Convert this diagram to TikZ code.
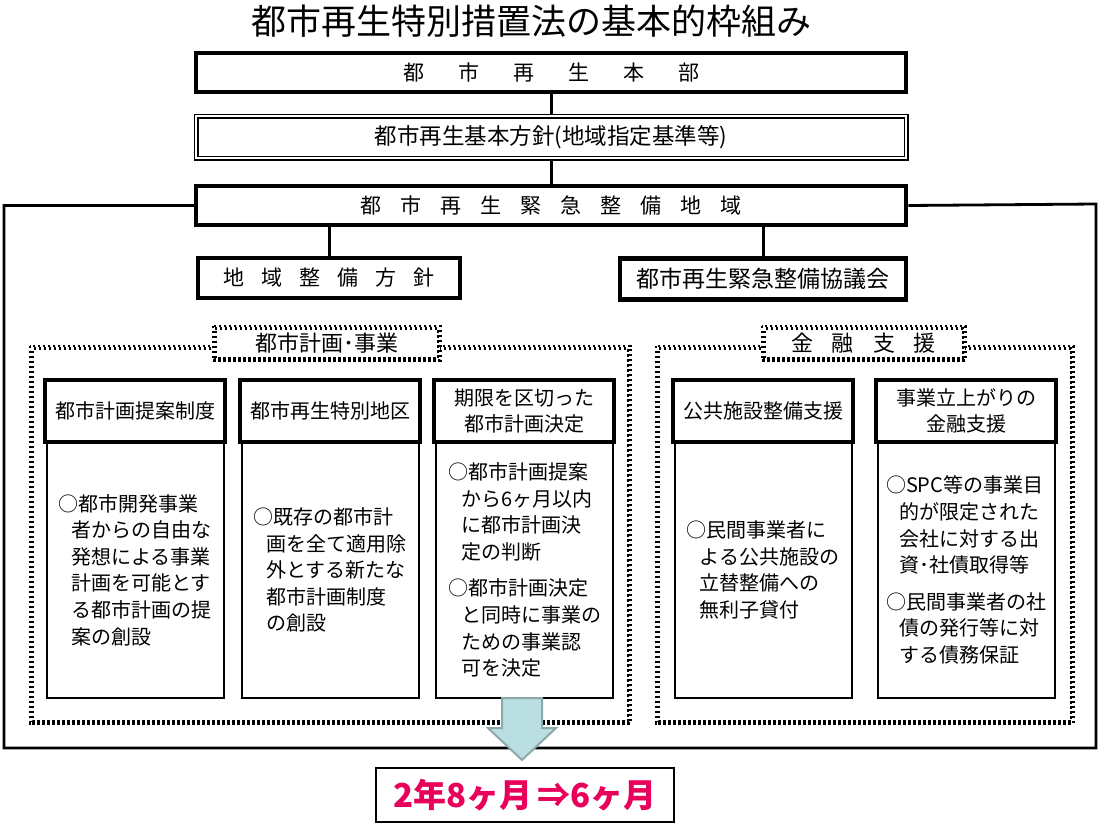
\documentclass[tikz,border=0pt]{standalone}
\usepackage{fontspec}
\setmainfont{Noto Sans CJK JP}
\usepackage{xcolor}
\usepackage{tikz}
\usetikzlibrary{positioning}
\definecolor{hotpink}{RGB}{232,0,90}
\definecolor{arrowfill}{RGB}{185,223,226}
\definecolor{arrowedge}{RGB}{140,168,170}
\makeatletter
\newcommand{\spread}[2]{\let\sp@gap\relax\@tfor\sp@ch:=#2\do{\sp@gap\sp@ch\def\sp@gap{\hspace{#1}}}}
\makeatother
\newcommand{\ind}{\hspace*{0.65em}}
\newcommand{\checkframe}[1]{%
  \draw[checker] (#1.north west) rectangle (#1.south east);
  \draw[checker,dash phase=2.5pt] ([shift={(2.4,2.4)}]#1.north west) rectangle ([shift={(-2.4,-2.4)}]#1.south east);}
\begin{document}
\begin{tikzpicture}[x=1pt,y=-1pt,
  heavybox/.style={draw,line width=4.5pt,fill=white,minimum width=710pt,minimum height=39pt,font=\fontsize{21pt}{26pt}\selectfont},
  dblbox/.style={draw,line width=1.2pt,double,double distance=2.6pt,fill=white,minimum width=710pt,minimum height=42pt,font=\fontsize{22.5pt}{26pt}\selectfont},
  headbox/.style={draw,line width=4.5pt,fill=white,minimum width=180pt,minimum height=62pt,align=center,font=\fontsize{20pt}{26.5pt}\selectfont},
  bodybox/.style={draw,line width=2pt,fill=white,minimum width=177pt,minimum height=256pt},
  bodytext/.style={align=left,font=\fontsize{20pt}{26.6pt}\selectfont},
  grouptitle/.style={fill=white,minimum height=34pt,font=\fontsize{22pt}{26pt}\selectfont},
  checker/.style={line width=2.6pt,dash pattern=on 2.5pt off 2.5pt},
  link/.style={line width=3pt},
  frame/.style={line width=2.8pt}]
\tikzstyle{every node}+=[inner sep=0pt]
\useasboundingbox (0,0) rectangle (1100,838);
\node[font=\fontsize{35pt}{40pt}\selectfont] (title) at (531,21) {都市再生特別措置法の基本的枠組み};
\coordinate (fsw) at (4,748);
\coordinate (fne) at (1096,204);
\node[heavybox] (hq) at (551,72.5) {\spread{34pt}{都市再生本部}};
\node[dblbox] (basic) at (551,137) {都市再生基本方針(地域指定基準等)};
\node[heavybox] (area) at (551,205.5) {\spread{19pt}{都市再生緊急整備地域}};
\draw[frame] (area.west) -| (fsw) -| (fne) -- (area.east);
\draw[link] (hq.south) -- (basic.north);
\draw[link] (basic.south) -- (area.north);
\node[heavybox,minimum width=262pt,minimum height=40pt] (areaplan) at (329,278) {\spread{17pt}{地域整備方針}};
\node[heavybox,minimum width=286pt,minimum height=41pt,font=\fontsize{23pt}{26pt}\selectfont] (council) at (763,279) {都市再生緊急整備協議会};
\draw[link] (area.south -| areaplan.north) -- (areaplan.north);
\draw[link] (area.south -| council.north) -- (council.north);
\node[minimum width=600pt,minimum height=377pt] (planframe) at (330,534.5) {};
\node[minimum width=417pt,minimum height=377pt] (finframe) at (864.5,534.5) {};
\checkframe{planframe}
\checkframe{finframe}
\node[grouptitle,minimum width=227pt] (plantitle) at (326.5,343) {都市計画･事業};
\node[grouptitle,minimum width=203pt] (fintitle) at (863.5,343) {\spread{19pt}{金融支援}};
\checkframe{plantitle}
\checkframe{fintitle}
\node[bodybox] (proposalbody) at (135,570) {};
\node[bodybox] (districtbody) at (330,570) {};
\node[bodybox] (deadlinebody) at (524.5,570) {};
\node[bodybox] (publicbody) at (763,570) {};
\node[bodybox] (startupbody) at (966,570) {};
\node[headbox] (proposal) at (135,411) {都市計画提案制度};
\node[headbox] (district) at (330,411) {都市再生特別地区};
\node[headbox] (deadline) at (524,411) {期限を区切った\\都市計画決定};
\node[headbox] (public) at (763,411) {公共施設整備支援};
\node[headbox] (startup) at (966,411) {事業立上がりの\\金融支援};
\node[bodytext] (proposaltext) at (proposalbody.center) {○都市開発事業\\\ind 者からの自由な\\\ind 発想による事業\\\ind 計画を可能とす\\\ind る都市計画の提\\\ind 案の創設};
\node[bodytext] (districttext) at (districtbody.center) {○既存の都市計\\\ind 画を全て適用除\\\ind 外とする新たな\\\ind 都市計画制度\\\ind の創設};
\node[bodytext] (deadlinetext) at (deadlinebody.center) {○都市計画提案\\\ind から6ヶ月以内\\\ind に都市計画決\\\ind 定の判断\\[10pt]○都市計画決定\\\ind と同時に事業の\\\ind ための事業認\\\ind 可を決定};
\node[bodytext] (publictext) at (publicbody.center) {○民間事業者に\\\ind よる公共施設の\\\ind 立替整備への\\\ind 無利子貸付};
\node[bodytext] (startuptext) at (startupbody.center) {○SPC等の事業目\\\ind 的が限定された\\\ind 会社に対する出\\\ind 資･社債取得等\\[10pt]○民間事業者の社\\\ind 債の発行等に対\\\ind する債務保証};
\coordinate (arrowtop) at (522,698);
\draw[line width=2pt,draw=arrowedge,fill=arrowfill] (arrowtop) ++(-20,0) -- ++(40,0) -- ++(0,30) -- ++(14,0) -- (arrowtop |- 0,760) -- ++(-34,-32) -- ++(14,0) -- cycle;
\node[draw,line width=1.5pt,minimum width=298pt,minimum height=54pt,font=\fontsize{33pt}{36pt}\selectfont\bfseries,text=hotpink] (result) at (525,795) {2年8ヶ月\hspace{5pt}⇒6ヶ月};
\end{tikzpicture}
\end{document}
